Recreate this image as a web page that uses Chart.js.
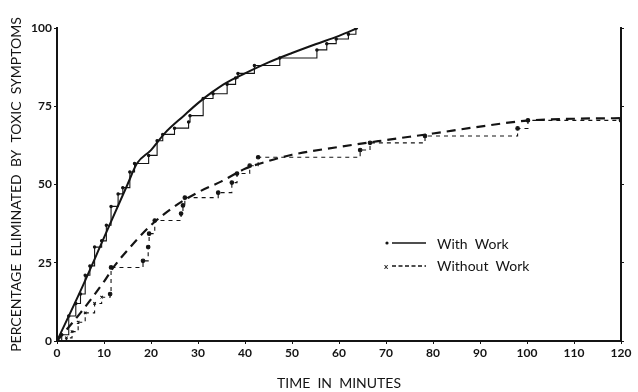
<!DOCTYPE html>
<html>
<head>
<meta charset="utf-8">
<script src="https://cdn.jsdelivr.net/npm/chart.js@4"></script>
<style>
  html, body { margin: 0; padding: 0; background: #fff; }
  #wrap { width: 638px; height: 392px; position: relative; }
</style>
</head>
<body>
<div id="wrap"><canvas id="chart" width="638" height="392"></canvas></div>
<script>
// step data (minutes, % eliminated)
const withWorkTimes = [0, 1, 2.5, 4, 5, 6, 7, 8, 9.5, 10.5, 11.5, 13, 14, 15.5, 16.5, 19.5, 21.3, 22.5, 25, 28, 28.3, 31.1, 33.2, 36.2, 38, 38.5, 42, 47.4, 55.3, 57.4, 59.4, 62, 63.6];
const withWorkPct   = [0, 2, 8, 12, 15, 21, 24, 30, 32, 37, 43, 47, 49, 54, 56.7, 59.3, 64, 66, 68, 70, 72, 77.5, 79, 82, 84, 85.5, 88, 90.4, 93, 95, 96.5, 98, 100];

const withoutWorkTimes = [0, 2, 3.2, 4.5, 6, 8, 9.5, 11.3, 11.5, 18.3, 19.4, 19.6, 20.8, 26.4, 26.8, 27.2, 34.3, 37.2, 38.3, 41, 42.8, 64.5, 66.6, 78.3, 98, 100.2, 120];
const withoutWorkPct   = [0, 1, 3, 6, 9, 12, 14, 15, 23.5, 25.6, 30, 34.3, 38.5, 40.7, 43.3, 45.8, 47.4, 50.6, 53.5, 56, 58.7, 61, 63.3, 65.5, 67.9, 70.5, 70.5];

// fitted smooth curves
const withCurveTimes = [0, 5, 10, 15, 17, 20, 23, 27, 30, 33, 36, 40, 45, 50, 55, 60, 64];
const withCurvePct   = [0, 16, 33, 50, 56.7, 61, 66.5, 72, 76, 79.5, 82.5, 85.5, 89, 92, 94.8, 97.5, 100];

const withoutCurveTimes = [0, 5, 10, 12, 15, 20, 25, 30, 35, 40, 45, 50, 60, 70, 80, 90, 100, 110, 120];
const withoutCurvePct   = [0, 9, 19, 23.5, 29, 37, 43, 47.5, 51, 55, 57.5, 59.5, 62, 64.2, 66.3, 68.5, 70.4, 71, 71.2];

const xTicks = [0, 10, 20, 30, 40, 50, 60, 70, 80, 90, 100, 110, 120];
const yTicks = [0, 25, 50, 75, 100];

const pairs = (xs, ys) => xs.map((x, i) => ({ x: x, y: ys[i] }));
const INK = '#141414';

const inlineLegend = {
  id: 'inlineLegend',
  afterDraw(chart) {
    const ctx = chart.ctx;
    ctx.save();
    ctx.strokeStyle = INK;
    ctx.fillStyle = INK;
    // With Work
    ctx.beginPath();
    ctx.arc(387, 243, 1.6, 0, Math.PI * 2);
    ctx.fill();
    ctx.lineWidth = 1.5;
    ctx.beginPath();
    ctx.moveTo(392, 243);
    ctx.lineTo(426, 243);
    ctx.stroke();
    // Without Work
    ctx.font = 'bold 8px Lato';
    ctx.textAlign = 'center';
    ctx.textBaseline = 'middle';
    ctx.fillText('x', 386, 266);
    ctx.setLineDash([4, 2.5]);
    ctx.beginPath();
    ctx.moveTo(392, 266);
    ctx.lineTo(426, 266);
    ctx.stroke();
    ctx.setLineDash([]);
    ctx.font = '14px Lato';
    ctx.textAlign = 'left';
    ctx.fillText('With  Work', 437, 244);
    ctx.fillText('Without  Work', 437, 266);
    ctx.restore();
  }
};

new Chart(document.getElementById('chart'), {
  type: 'line',
  data: {
    datasets: [
      {
        label: 'With Work (fitted)',
        data: pairs(withCurveTimes, withCurvePct),
        borderColor: INK,
        borderWidth: 2,
        pointRadius: 0,
        cubicInterpolationMode: 'monotone',
        fill: false,
      },
      {
        label: 'With Work',
        data: pairs(withWorkTimes, withWorkPct),
        borderColor: INK,
        borderWidth: 1.1,
        stepped: 'before',
        pointRadius: 1.2,
        pointBackgroundColor: INK,
        pointBorderColor: INK,
        fill: false,
      },
      {
        label: 'Without Work (fitted)',
        data: pairs(withoutCurveTimes, withoutCurvePct),
        borderColor: INK,
        borderWidth: 2.2,
        borderDash: [9, 6],
        pointRadius: 0,
        cubicInterpolationMode: 'monotone',
        fill: false,
      },
      {
        label: 'Without Work',
        data: pairs(withoutWorkTimes, withoutWorkPct),
        borderColor: INK,
        borderWidth: 1.1,
        borderDash: [4, 4],
        stepped: 'before',
        pointStyle: (c) => (c.raw && c.raw.x < 11 ? 'crossRot' : 'circle'),
        pointRadius: 1.8,
        pointBackgroundColor: INK,
        pointBorderColor: INK,
        fill: false,
      },
    ],
  },
  options: {
    responsive: false,
    animation: false,
    layout: { padding: { top: 28, right: 0, left: 0, bottom: 0 } },
    plugins: {
      legend: { display: false },
      tooltip: { enabled: false },
    },
    scales: {
      x: {
        type: 'linear',
        min: 0,
        max: 120,
        afterBuildTicks: (s) => { s.ticks = xTicks.map((v) => ({ value: v })); },
        afterFit: (s) => { s.height = 51; },
        border: { display: true, color: INK, width: 2 },
        grid: { drawOnChartArea: false, color: INK, tickLength: 3 },
        ticks: { color: INK, font: { family: 'Lato', size: 12, weight: 'bold' }, padding: 2, maxRotation: 0 },
        title: {
          display: true,
          text: 'TIME  IN  MINUTES',
          color: INK,
          font: { family: 'Lato', size: 14 },
          padding: { top: 7, bottom: 0 },
        },
      },
      y: {
        type: 'linear',
        min: 0,
        max: 100,
        afterBuildTicks: (s) => { s.ticks = yTicks.map((v) => ({ value: v })); },
        afterFit: (s) => { s.width = 57; },
        border: { display: true, color: INK, width: 2 },
        grid: { drawOnChartArea: false, color: INK, tickLength: 3 },
        ticks: { color: INK, font: { family: 'Lato', size: 12, weight: 'bold' }, padding: 2 },
        title: {
          display: true,
          text: 'PERCENTAGE  ELIMINATED  BY  TOXIC  SYMPTOMS',
          color: INK,
          font: { family: 'Lato', size: 14 },
          padding: { top: 8, bottom: 2 },
        },
      },
      y2: {
        type: 'linear',
        position: 'right',
        min: 0,
        max: 100,
        afterBuildTicks: (s) => { s.ticks = yTicks.map((v) => ({ value: v })); },
        afterFit: (s) => { s.width = 17; },
        border: { display: true, color: INK, width: 2 },
        grid: { drawOnChartArea: false, color: INK, tickLength: 3 },
        ticks: { display: false },
      },
    },
  },
  plugins: [inlineLegend],
});
</script>
</body>
</html>
